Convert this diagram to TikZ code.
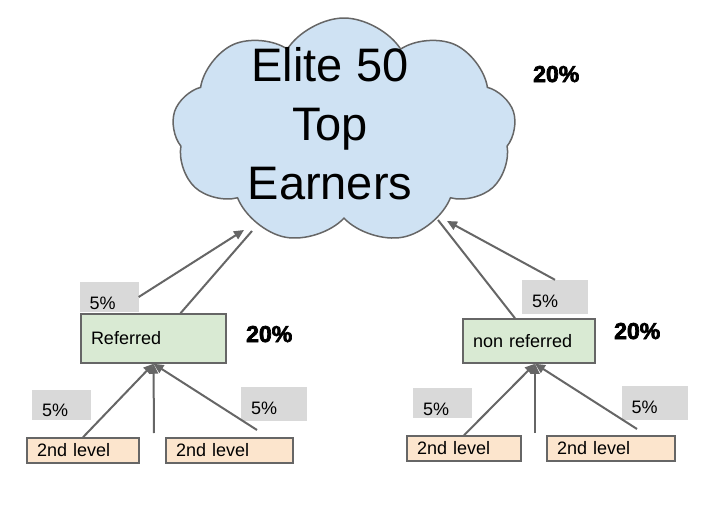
\documentclass[tikz,border=0pt]{standalone}
\usepackage{fontspec}
\setmainfont{Liberation Sans}
\newfontfamily\heavyfont{Liberation Sans Bold}[FakeBold=3]
\usetikzlibrary{positioning,calc,shapes.symbols,arrows.meta}
\definecolor{cloudBlue}{HTML}{CFE2F3}
\definecolor{refGreen}{HTML}{D9EAD3}
\definecolor{levelOrange}{HTML}{FCE5CD}
\definecolor{tagGray}{HTML}{D9D9D9}
\definecolor{lineGray}{HTML}{666666}
\tikzset{
    levelBox/.style={draw=lineGray, line width=1.5pt, inner xsep=10pt, inner ysep=0pt, align=left, font=\fontsize{18}{20}\selectfont},
    pctTag/.style={fill=tagGray, inner xsep=10pt, inner ysep=0pt, text width=39pt, text height=27pt, text depth=3pt, align=left, font=\fontsize{18}{20}\selectfont},
    pctTagWide/.style={pctTag, text width=46pt, text depth=7pt},
    boldPct/.style={anchor=base west, inner sep=0pt, font=\heavyfont\fontsize{23}{25}\selectfont},
    feedLine/.style={draw=lineGray, line width=2pt},
    feedArrow/.style={feedLine, -{Triangle[length=10pt,width=9pt]}}
}
\begin{document}
\begin{tikzpicture}[x=1pt,y=-1pt]
	\useasboundingbox (0,0) rectangle (718,511);
	% top of the tree
	\node[cloud, cloud puffs=9, cloud puff arc=115, aspect=1.55, minimum width=344pt, minimum height=226pt, fill=cloudBlue, draw=lineGray, line width=1.5pt] (cloud) at (344,131) {};
	\node[align=center, inner sep=0pt, font=\fontsize{47}{59}\selectfont] (title) at (330,124) {Elite 50\\Top\\Earners};
	\node[boldPct] (pctTop) at (533,82) {20\%};
	% first level
	\node[levelBox, fill=refGreen, minimum width=145pt, minimum height=49pt, text width=125pt] (ref) at (153.5,338.5) {Referred};
	\node[levelBox, fill=refGreen, minimum width=132pt, minimum height=44pt, text width=112pt] (nonref) at (529,341) {non referred};
	\node[boldPct] (pctRef) at (246,342) {20\%};
	\node[boldPct] (pctNonref) at (614,339) {20\%};
	\node[pctTag] (tagRef) at (109,297) {5\%};
	\node[pctTagWide] (tagNonref) at (555,297) {5\%};
	% second level
	\node[levelBox, fill=levelOrange, minimum width=112pt, minimum height=25pt, text width=92pt] (lvlA) at (83,450.5) {2nd level};
	\node[levelBox, fill=levelOrange, minimum width=127pt, minimum height=25pt, text width=107pt] (lvlB) at (229.5,450.5) {2nd level};
	\node[levelBox, fill=levelOrange, minimum width=114pt, minimum height=25pt, text width=94pt] (lvlC) at (464,448.5) {2nd level};
	\node[levelBox, fill=levelOrange, minimum width=128pt, minimum height=25pt, text width=108pt] (lvlD) at (611,448.5) {2nd level};
	\node[pctTag] (tagA) at (61.5,404.5) {5\%};
	\node[pctTagWide] (tagB) at (274,404) {5\%};
	\node[pctTag] (tagC) at (442.5,403) {5\%};
	\node[pctTagWide] (tagD) at (654.5,403) {5\%};
	% free ends
	\coordinate (cloudL1) at (244,230);
	\coordinate (cloudL2) at (252,231);
	\coordinate (cloudR1) at (447,221);
	\coordinate (cloudR2) at (438,220);
	\coordinate (midA) at (154,433);
	\coordinate (sideA) at (257,430);
	\coordinate (midC) at (535,433);
	\coordinate (sideC) at (637,429);
	\coordinate (nonrefIn) at ($(nonref.south)+(6,0)$);
	% connectors
	\draw[feedArrow] (tagRef.east) -- (cloudL1);
	\draw[feedLine] ($(ref.north)+(27,0)$) -- (cloudL2);
	\draw[feedArrow] (tagNonref.north) -- (cloudR1);
	\draw[feedLine] ($(nonref.north)+(-14,0)$) -- (cloudR2);
	\draw[feedArrow] (lvlA.north) -- (ref.south);
	\draw[feedArrow] (midA) -- (ref.south);
	\draw[feedArrow] (sideA) -- (ref.south);
	\draw[feedArrow] (lvlC.north) -- (nonrefIn);
	\draw[feedArrow] (midC) -- (nonrefIn);
	\draw[feedArrow] (sideC) -- (nonrefIn);
\end{tikzpicture}
\end{document}
